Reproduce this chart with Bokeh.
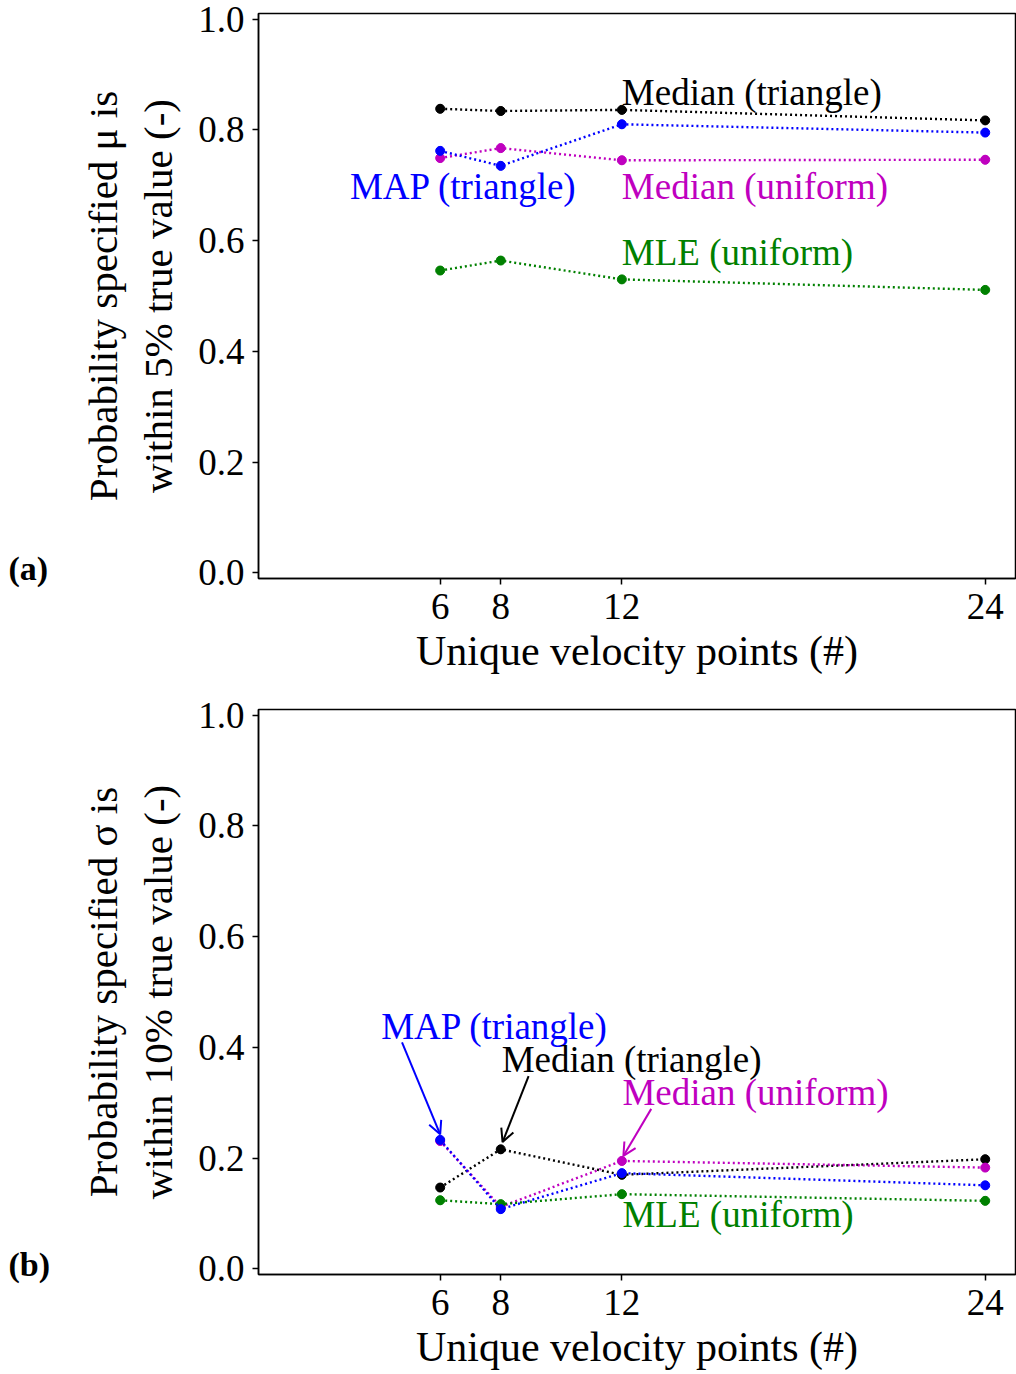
from bokeh.plotting import figure
from bokeh.models import Label, Arrow, OpenHead, FixedTicker, Range1d, NumeralTickFormatter
from bokeh.layouts import column, row
from bokeh.core.properties import value
from bokeh.embed import file_html
from bokeh.resources import INLINE

# ---------------- data ----------------
velocity_points = [6, 8, 12, 24]
x_ticks = [6, 8, 12, 24]
y_ticks = [0.0, 0.2, 0.4, 0.6, 0.8, 1.0]

# (a) probability mu within 5 % of true value
mu_median_triangle = [0.838, 0.834, 0.836, 0.817]
mu_map_triangle = [0.762, 0.735, 0.810, 0.795]
mu_median_uniform = [0.749, 0.767, 0.745, 0.746]
mu_mle_uniform = [0.546, 0.564, 0.530, 0.511]

# (b) probability sigma within 10 % of true value
sigma_median_triangle = [0.147, 0.216, 0.170, 0.198]
sigma_map_triangle = [0.233, 0.108, 0.173, 0.151]
sigma_median_uniform = [0.231, 0.112, 0.195, 0.183]
sigma_mle_uniform = [0.124, 0.117, 0.135, 0.123]

# small error-bar half widths
err_half = [0.008, 0.008, 0.008, 0.008]

series_names = ["Median (triangle)", "Median (uniform)", "MLE (uniform)", "MAP (triangle)"]
series_colors = ["black", "#bf00bf", "green", "blue"]

FONT = "Liberation Serif"
LEFT_STRIP = 60


def make_fig(ylabel, series, labels, arrows, top_border, bottom_border):
    p = figure(frame_width=757, frame_height=565,
               x_range=Range1d(0, 25), y_range=Range1d(-0.01, 1.01),
               output_backend="svg", toolbar_location=None,
               min_border_left=258 - LEFT_STRIP, min_border_right=1,
               min_border_top=top_border, min_border_bottom=bottom_border)
    p.xgrid.visible = False
    p.ygrid.visible = False
    p.outline_line_color = "black"
    p.outline_line_width = 1.5
    p.outline_line_alpha = 1.0
    p.background_fill_color = "white"
    p.border_fill_color = "white"

    p.xaxis.ticker = FixedTicker(ticks=x_ticks)
    p.yaxis.ticker = FixedTicker(ticks=y_ticks)
    p.yaxis.formatter = NumeralTickFormatter(format="0.0")
    for ax in (p.xaxis[0], p.yaxis[0]):
        ax.axis_line_color = "black"
        ax.axis_line_width = 1.5
        ax.major_tick_line_color = "black"
        ax.major_tick_line_width = 1.5
        ax.major_tick_out = 6
        ax.major_tick_in = 0
        ax.minor_tick_line_color = None
        ax.major_label_text_font = FONT
        ax.major_label_text_font_size = "37px"
        ax.major_label_text_color = "black"
        ax.axis_label_text_font = FONT
        ax.axis_label_text_font_style = "normal"
        ax.axis_label_text_color = "black"
    p.yaxis.axis_label_text_font_size = "41px"
    p.xaxis.axis_label_text_font_size = "42px"
    p.xaxis.axis_label = "Unique velocity points (#)"
    p.yaxis.axis_label = ylabel
    p.xaxis.major_label_standoff = 9
    p.xaxis.axis_label_standoff = 6
    p.yaxis.major_label_standoff = 8
    p.yaxis.axis_label_standoff = 14

    for ys, c in zip(series, series_colors):
        lo = [y - e for y, e in zip(ys, err_half)]
        hi = [y + e for y, e in zip(ys, err_half)]
        p.line(velocity_points, ys, line_color=c, line_width=2.4, line_dash="2 3")
        p.segment(velocity_points, lo, velocity_points, hi, line_color=c, line_width=3)
        p.scatter(velocity_points, ys, size=9, fill_color=c, line_color=c)

    for (x, y, text, c) in labels:
        p.add_layout(Label(x=x, y=y, text=text, text_color=c, text_font=FONT,
                           text_font_size="37px", text_baseline="middle",
                           text_align="left"))
    for (x0, y0, x1, y1, c) in arrows:
        p.add_layout(Arrow(end=OpenHead(size=13, line_color=c, line_width=2),
                           x_start=x0, y_start=y0, x_end=x1, y_end=y1,
                           line_color=c, line_width=2))
    return p


def make_strip(panel, height, y_px_from_top):
    s = figure(width=LEFT_STRIP, height=height,
               x_range=Range1d(0, LEFT_STRIP),
               output_backend="svg", toolbar_location=None,
               x_axis_location=None, y_axis_location=None,
               min_border=0)
    if "frame_align" in s.properties():
        # strip frame fills the whole strip: pixel coordinates from the bottom
        s.frame_align = False
        s.y_range = Range1d(0, height)
        ypos = height - y_px_from_top
    else:
        # frame aligned with neighbour plot: use its y range
        s.y_range = Range1d(-0.01, 1.01)
        ypos = 0.024
    s.xgrid.visible = False
    s.ygrid.visible = False
    s.outline_line_color = None
    s.background_fill_color = "white"
    s.border_fill_color = "white"
    s.text(x=[8], y=[ypos], text=[panel], text_font=value(FONT),
           text_font_size="34px", text_font_style="bold", text_color="black",
           text_baseline="middle", text_align="left")
    return s


labels_a = [
    (12.0, 0.867, "Median (triangle)", "black"),
    (3.02, 0.697, "MAP (triangle)", "blue"),
    (12.0, 0.697, "Median (uniform)", "#bf00bf"),
    (12.0, 0.578, "MLE (uniform)", "green"),
]
labels_b = [
    (4.05, 0.438, "MAP (triangle)", "blue"),
    (8.03, 0.379, "Median (triangle)", "black"),
    (12.02, 0.319, "Median (uniform)", "#bf00bf"),
    (12.02, 0.099, "MLE (uniform)", "green"),
]
arrows_b = [
    (4.74, 0.409, 6.0, 0.243, "blue"),
    (8.92, 0.348, 8.06, 0.229, "black"),
    (12.97, 0.289, 12.05, 0.204, "#bf00bf"),
]

p1 = make_fig("Probability specified μ is\nwithin 5% true value (-)",
              [mu_median_triangle, mu_median_uniform, mu_mle_uniform, mu_map_triangle],
              labels_a, [], 13, 117)
p2 = make_fig("Probability specified σ is\nwithin 10% true value (-)",
              [sigma_median_triangle, sigma_median_uniform, sigma_mle_uniform, sigma_map_triangle],
              labels_b, arrows_b, 14, 100)

s1 = make_strip("(a)", 695, 568)
s2 = make_strip("(b)", 679, 1264 - 695)

layout = column(row(s1, p1, spacing=0), row(s2, p2, spacing=0), spacing=0)
open("out.html", "w").write(file_html(layout, INLINE))
